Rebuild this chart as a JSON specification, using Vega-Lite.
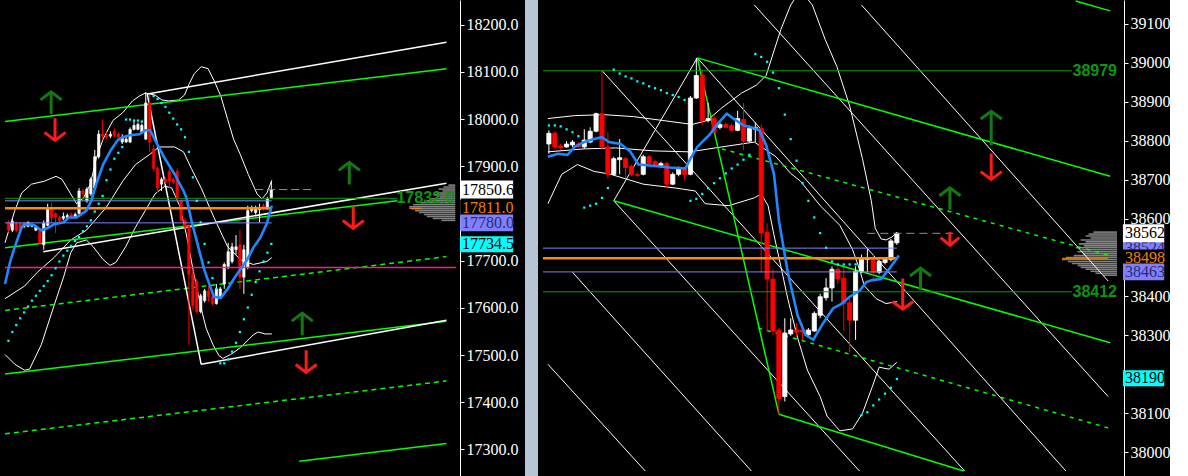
{
"$schema":"https://vega.github.io/schema/vega-lite/v6.json",
"background":"#000000",
"padding":0,
"autosize":{"type":"pad"},
"spacing":0,
"bounds":"flush",
"config":{"view":{"stroke":null},"axis":{"grid":false,"labelFont":"Liberation Serif","labelFontSize":16,"labelColor":"#ffffff","tickColor":"#ffffff","domainColor":"#ffffff","tickSize":4,"labelPadding":2,"labelOverlap":false,"labelFlush":false}},
"datasets":{
"lc":[
{"x":0,"o":17781.1,"h":17785.3,"l":17760.4,"c":17764.5},{"x":1,"o":17764.5,"h":17789.4,"l":17760.4,"c":17783.2},{"x":2,"o":17779.0,"h":17783.2,"l":17760.4,"c":17764.5},{"x":3,"o":17779.0,"h":17781.1,"l":17758.3,"c":17762.5},{"x":4,"o":17772.8,"h":17781.1,"l":17768.7,"c":17777.0},{"x":5,"o":17772.8,"h":17783.2,"l":17770.7,"c":17781.1},{"x":6,"o":17772.8,"h":17779.0,"l":17770.7,"c":17777.0},{"x":7,"o":17764.5,"h":17774.9,"l":17762.5,"c":17770.7},{"x":8,"o":17764.5,"h":17768.7,"l":17733.4,"c":17737.6},{"x":9,"o":17733.4,"h":17785.3,"l":17723.1,"c":17779.0},
{"x":10,"o":17774.9,"h":17820.5,"l":17772.8,"c":17812.2},{"x":11,"o":17812.2,"h":17822.6,"l":17779.0,"c":17791.5},{"x":12,"o":17799.8,"h":17801.9,"l":17758.3,"c":17791.5},{"x":13,"o":17791.5,"h":17795.6,"l":17781.1,"c":17785.3},{"x":14,"o":17789.4,"h":17801.9,"l":17785.3,"c":17793.6},{"x":15,"o":17791.5,"h":17799.8,"l":17787.3,"c":17795.6},{"x":16,"o":17797.7,"h":17801.9,"l":17789.4,"c":17793.6},{"x":17,"o":17793.6,"h":17801.9,"l":17789.4,"c":17797.7},{"x":18,"o":17799.8,"h":17853.7,"l":17797.7,"c":17847.5},{"x":19,"o":17847.5,"h":17851.6,"l":17826.7,"c":17841.3},
{"x":20,"o":17826.7,"h":17855.8,"l":17822.6,"c":17851.6},{"x":21,"o":17841.3,"h":17876.5,"l":17837.1,"c":17872.4},{"x":22,"o":17853.7,"h":17934.6,"l":17849.6,"c":17920.1},{"x":23,"o":17920.1,"h":17976.1,"l":17915.9,"c":17967.8},{"x":24,"o":17967.8,"h":17998.9,"l":17955.3,"c":17963.6},{"x":25,"o":17965.7,"h":17971.9,"l":17957.4,"c":17961.5},{"x":26,"o":17963.6,"h":17974.0,"l":17959.5,"c":17967.8},{"x":27,"o":17974.0,"h":17980.2,"l":17961.5,"c":17965.7},{"x":28,"o":17967.8,"h":17971.9,"l":17957.4,"c":17961.5},{"x":29,"o":17951.2,"h":17967.8,"l":17947.0,"c":17961.5},
{"x":30,"o":17951.2,"h":17963.6,"l":17949.1,"c":17957.4},{"x":31,"o":17951.2,"h":17982.3,"l":17949.1,"c":17978.1},{"x":32,"o":17978.1,"h":17996.8,"l":17976.1,"c":17986.4},{"x":33,"o":17978.1,"h":17992.6,"l":17976.1,"c":17988.5},{"x":34,"o":17971.9,"h":17990.6,"l":17969.8,"c":17986.4},{"x":35,"o":17957.4,"h":18056.9,"l":17955.3,"c":18034.1},{"x":36,"o":18034.1,"h":18050.7,"l":17930.4,"c":17951.2},{"x":37,"o":17936.7,"h":17945.0,"l":17889.0,"c":17895.2},{"x":38,"o":17895.2,"h":17899.3,"l":17843.3,"c":17853.7},{"x":39,"o":17862.0,"h":17876.5,"l":17847.5,"c":17872.4},
{"x":40,"o":17872.4,"h":17876.5,"l":17862.0,"c":17866.1},{"x":41,"o":17889.0,"h":17895.2,"l":17853.7,"c":17868.2},{"x":42,"o":17872.4,"h":17876.5,"l":17862.0,"c":17866.1},{"x":43,"o":17889.0,"h":17895.2,"l":17826.7,"c":17830.9},{"x":44,"o":17826.7,"h":17830.9,"l":17781.1,"c":17785.3},{"x":45,"o":17785.3,"h":17791.5,"l":17764.5,"c":17770.7},{"x":46,"o":17772.8,"h":17777.0,"l":17521.9,"c":17671.2},{"x":47,"o":17671.2,"h":17681.6,"l":17594.5,"c":17604.8},{"x":48,"o":17656.7,"h":17660.8,"l":17588.3,"c":17592.4},{"x":49,"o":17592.4,"h":17629.7,"l":17588.3,"c":17625.6},
{"x":50,"o":17615.2,"h":17640.1,"l":17611.1,"c":17636.0},{"x":51,"o":17636.0,"h":17646.3,"l":17613.1,"c":17623.5},{"x":52,"o":17623.5,"h":17627.7,"l":17604.8,"c":17609.0},{"x":53,"o":17609.0,"h":17650.5,"l":17606.9,"c":17640.1},{"x":54,"o":17623.5,"h":17644.3,"l":17619.4,"c":17640.1},{"x":55,"o":17650.5,"h":17696.1,"l":17640.1,"c":17691.9},{"x":56,"o":17687.8,"h":17737.6,"l":17681.6,"c":17718.9},{"x":57,"o":17698.2,"h":17737.6,"l":17694.0,"c":17729.3},{"x":58,"o":17723.1,"h":17754.2,"l":17712.7,"c":17729.3},{"x":59,"o":17733.4,"h":17764.5,"l":17640.1,"c":17665.0},
{"x":60,"o":17665.0,"h":17733.4,"l":17629.7,"c":17723.1},{"x":61,"o":17685.7,"h":17816.4,"l":17681.6,"c":17806.0},{"x":62,"o":17806.0,"h":17816.4,"l":17801.9,"c":17812.2},{"x":63,"o":17801.9,"h":17816.4,"l":17797.7,"c":17812.2},{"x":64,"o":17808.1,"h":17820.5,"l":17781.1,"c":17812.2},{"x":65,"o":17816.4,"h":17820.5,"l":17806.0,"c":17810.2},{"x":66,"o":17810.2,"h":17835.0,"l":17808.1,"c":17830.9},{"x":67,"o":17833.0,"h":17868.2,"l":17830.9,"c":17850.6}
],
"lma":[{"x":-0.875,"p":17650.5},{"x":0.375,"p":17696.1},{"x":1.625,"p":17729.3},{"x":3.375,"p":17770.7},{"x":4.125,"p":17777.0},{"x":6.625,"p":17774.9},{"x":8.375,"p":17764.5},{"x":9.875,"p":17768.7},{"x":11.625,"p":17777.0},{"x":14.125,"p":17781.1},{"x":15.375,"p":17791.5},{"x":17.375,"p":17791.5},{"x":19.875,"p":17806.0},{"x":21.125,"p":17826.7},{"x":22.375,"p":17862.0},{"x":24.125,"p":17903.5},{"x":26.125,"p":17934.6},{"x":27.875,"p":17955.3},{"x":29.125,"p":17961.5},{"x":30.875,"p":17965.7},{"x":33.375,"p":17967.8},{"x":34.875,"p":17976.1},{"x":36.125,"p":17976.1},{"x":37.375,"p":17955.3},{"x":39.875,"p":17915.9},{"x":42.375,"p":17882.7},{"x":44.625,"p":17847.5},{"x":45.375,"p":17833.0},{"x":46.625,"p":17785.3},{"x":48.375,"p":17729.3},{"x":49.875,"p":17681.6},{"x":51.625,"p":17640.1},{"x":52.375,"p":17623.5},{"x":54.125,"p":17621.4},{"x":55.875,"p":17640.1},{"x":57.375,"p":17660.8},{"x":59.125,"p":17681.6},{"x":60.875,"p":17702.3},{"x":62.375,"p":17727.2},{"x":64.125,"p":17747.9},{"x":65.875,"p":17779.0},{"x":67.125,"p":17816.4}],
"lbb":[
{"b":"u","x":-0.875,"p":17737.6},{"b":"u","x":1.625,"p":17806.0},{"b":"u","x":3.375,"p":17843.3},{"b":"u","x":5.875,"p":17862.0},{"b":"u","x":9.125,"p":17868.2},{"b":"u","x":12.125,"p":17878.6},{"b":"u","x":13.625,"p":17872.4},{"b":"u","x":15.875,"p":17841.3},{"b":"u","x":17.375,"p":17820.5},{"b":"u","x":19.125,"p":17833.0},{"b":"u","x":20.875,"p":17862.0},{"b":"u","x":22.375,"p":17915.9},{"b":"u","x":24.125,"p":17957.4},{"b":"u","x":26.625,"p":17996.8},{"b":"u","x":29.125,"p":18013.4},{"b":"u","x":31.625,"p":18038.3},{"b":"u","x":33.375,"p":18048.6},{"b":"u","x":34.875,"p":18054.9},{"b":"u","x":37.375,"p":18050.7},{"b":"u","x":39.125,"p":18040.3},{"b":"u","x":40.875,"p":18038.3},{"b":"u","x":43.375,"p":18040.3},{"b":"u","x":44.875,"p":18050.7},{"b":"u","x":46.125,"p":18075.6},{"b":"u","x":47.375,"p":18096.3},{"b":"u","x":49.125,"p":18110.8},{"b":"u","x":50.875,"p":18106.7},{"b":"u","x":52.375,"p":18081.8},{"b":"u","x":54.125,"p":18048.6},{"b":"u","x":55.875,"p":17998.9},{"b":"u","x":57.375,"p":17957.4},{"b":"u","x":59.125,"p":17924.2},{"b":"u","x":61.125,"p":17882.7},{"b":"u","x":63.375,"p":17841.3},{"b":"u","x":64.625,"p":17830.9},{"b":"u","x":65.875,"p":17843.3},{"b":"u","x":67.125,"p":17870.3},
{"b":"m","x":-0.875,"p":17619.4},{"b":"m","x":4.125,"p":17646.3},{"b":"m","x":7.375,"p":17675.4},{"b":"m","x":11.625,"p":17706.5},{"b":"m","x":15.875,"p":17743.8},{"b":"m","x":19.875,"p":17764.5},{"b":"m","x":24.875,"p":17812.2},{"b":"m","x":29.125,"p":17868.2},{"b":"m","x":32.375,"p":17903.5},{"b":"m","x":35.875,"p":17924.2},{"b":"m","x":38.375,"p":17940.8},{"b":"m","x":42.375,"p":17940.8},{"b":"m","x":44.625,"p":17930.4},{"b":"m","x":46.625,"p":17895.2},{"b":"m","x":49.125,"p":17853.7},{"b":"m","x":52.375,"p":17791.5},{"b":"m","x":55.875,"p":17729.3},{"b":"m","x":59.125,"p":17702.3},{"b":"m","x":62.375,"p":17691.9},{"b":"m","x":65.875,"p":17698.2},{"b":"m","x":67.125,"p":17706.5},
{"b":"l","x":-0.875,"p":17501.2},{"b":"l","x":1.625,"p":17480.4},{"b":"l","x":4.125,"p":17468.0},{"b":"l","x":5.375,"p":17470.1},{"b":"l","x":8.375,"p":17521.9},{"b":"l","x":11.625,"p":17604.8},{"b":"l","x":14.125,"p":17667.1},{"b":"l","x":15.875,"p":17716.8},{"b":"l","x":17.375,"p":17737.6},{"b":"l","x":19.875,"p":17743.8},{"b":"l","x":21.625,"p":17729.3},{"b":"l","x":24.125,"p":17702.3},{"b":"l","x":25.875,"p":17689.9},{"b":"l","x":27.375,"p":17696.1},{"b":"l","x":29.875,"p":17729.3},{"b":"l","x":32.375,"p":17770.7},{"b":"l","x":34.875,"p":17806.0},{"b":"l","x":37.375,"p":17841.3},{"b":"l","x":39.875,"p":17857.9},{"b":"l","x":41.625,"p":17853.7},{"b":"l","x":43.625,"p":17816.4},{"b":"l","x":45.375,"p":17754.2},{"b":"l","x":47.125,"p":17677.4},{"b":"l","x":49.125,"p":17598.6},{"b":"l","x":50.375,"p":17557.2},{"b":"l","x":52.125,"p":17521.9},{"b":"l","x":53.625,"p":17499.1},{"b":"l","x":54.625,"p":17492.9},{"b":"l","x":56.625,"p":17501.2},{"b":"l","x":59.125,"p":17515.7},{"b":"l","x":62.375,"p":17542.6},{"b":"l","x":63.625,"p":17548.9},{"b":"l","x":65.375,"p":17544.7},{"b":"l","x":67.125,"p":17544.7}
],
"lsar":[{"x":0,"p":17530.2},{"x":1,"p":17548.9},{"x":2,"p":17563.4},{"x":3,"p":17577.9},{"x":4,"p":17590.3},{"x":5,"p":17602.8},{"x":6,"p":17615.2},{"x":7,"p":17625.6},{"x":8,"p":17636.0},{"x":9,"p":17646.3},{"x":10,"p":17656.7},{"x":11,"p":17669.1},{"x":12,"p":17683.7},{"x":13,"p":17698.2},{"x":14,"p":17710.6},{"x":15,"p":17721.0},{"x":16,"p":17731.3},{"x":17,"p":17741.7},{"x":18,"p":17750.0},{"x":19,"p":17762.5},{"x":20,"p":17772.8},{"x":21,"p":17785.3},{"x":22,"p":17803.9},{"x":23,"p":17820.5},{"x":24,"p":17837.1},{"x":25,"p":17870.3},{"x":26,"p":17893.1},{"x":27,"p":17915.9},{"x":28,"p":17928.4},{"x":29,"p":17940.8},{"x":30,"p":17998.9},{"x":31,"p":17998.9},{"x":32,"p":17996.8},{"x":33,"p":17996.8},{"x":34,"p":17994.7},{"x":37,"p":18048.6},{"x":38,"p":18042.4},{"x":39,"p":18034.1},{"x":40,"p":18025.8},{"x":41,"p":18013.4},{"x":42,"p":18000.9},{"x":43,"p":17988.5},{"x":44,"p":17978.1},{"x":45,"p":17961.5},{"x":46,"p":17930.4},{"x":47,"p":17876.5},{"x":48,"p":17826.7},{"x":49,"p":17781.1},{"x":50,"p":17735.5},{"x":51,"p":17696.1},{"x":52,"p":17662.9},{"x":53,"p":17640.1},{"x":54,"p":17482.5},{"x":55,"p":17482.5},{"x":56,"p":17490.8},{"x":57,"p":17507.4},{"x":58,"p":17526.0},{"x":59,"p":17548.9},{"x":60,"p":17575.8},{"x":61,"p":17600.7},{"x":62,"p":17627.7},{"x":63,"p":17654.6},{"x":64,"p":17677.4},{"x":65,"p":17698.2},{"x":66,"p":17716.8},{"x":67,"p":17735.5}],
"lgreen":[{"s":"a","x":-0.875,"p":17994.7},{"s":"a","x":111.625,"p":18106.7},{"s":"b","x":-0.875,"p":17727.2},{"s":"b","x":99.125,"p":17826.7},{"s":"c","x":-0.875,"p":17459.7},{"s":"c","x":111.625,"p":17571.7},{"s":"d","x":74.125,"p":17275.1},{"s":"d","x":111.625,"p":17312.4}],
"lgdash":[{"s":"a","x":-0.875,"p":17594.5},{"s":"a","x":111.625,"p":17708.5},{"s":"b","x":-0.875,"p":17333.2},{"s":"b","x":111.625,"p":17445.2}],
"lwhite":[{"s":"a","x":35.375,"p":18052.8},{"s":"a","x":111.625,"p":18162.7},{"s":"b","x":8.875,"p":17718.9},{"s":"b","x":111.625,"p":17864.1},{"s":"c","x":49.125,"p":17480.4},{"s":"c","x":111.625,"p":17573.7},{"s":"z","x":35.375,"p":18052.8},{"s":"z","x":49.125,"p":17480.4}],
"lprof":[{"p":17859.9,"x0":112.125},{"p":17855.8,"x0":110.875},{"p":17851.6,"x0":109.625},{"p":17847.5,"x0":110.625},{"p":17843.3,"x0":109.125},{"p":17839.2,"x0":108.375},{"p":17835.0,"x0":109.875},{"p":17830.9,"x0":107.625},{"p":17826.7,"x0":106.625},{"p":17822.6,"x0":105.125},{"p":17818.4,"x0":103.125},{"p":17814.3,"x0":102.125},{"p":17810.2,"x0":102.625},{"p":17806.0,"x0":103.625},{"p":17801.9,"x0":104.625},{"p":17797.7,"x0":105.875},{"p":17793.6,"x0":106.625},{"p":17789.4,"x0":108.125},{"p":17785.3,"x0":110.375}],
"larr":[{"x":10.875,"p":18034.1,"k":"up"},{"x":11.875,"p":17978.1,"k":"down"},{"x":86.875,"p":17884.8,"k":"up"},{"x":87.875,"p":17791.5,"k":"down"},{"x":74.875,"p":17565.4,"k":"up"},{"x":75.875,"p":17486.6,"k":"down"}],
"llab":[{"v":17811.0,"t":"17811.0","k":"o"},{"v":17850.6,"t":"17850.6","k":"w"},{"v":17780.0,"t":"17780.0","k":"l"},{"v":17734.5,"t":"17734.5","k":"c"}],
"rc":[
{"x":0,"o":38791.1,"h":38826.3,"l":38766.0,"c":38818.7},{"x":1,"o":38818.7,"h":38823.8,"l":38778.6,"c":38783.6},{"x":2,"o":38786.1,"h":38791.1,"l":38776.0,"c":38781.1},{"x":3,"o":38783.6,"h":38798.6,"l":38781.1,"c":38791.1},{"x":4,"o":38788.6,"h":38801.2,"l":38783.6,"c":38796.1},{"x":5,"o":38791.1,"h":38796.1,"l":38781.1,"c":38783.6},{"x":6,"o":38783.6,"h":38828.8,"l":38778.6,"c":38801.2},{"x":7,"o":38796.1,"h":38833.8,"l":38793.6,"c":38823.8},{"x":8,"o":38823.8,"h":38871.5,"l":38821.2,"c":38869.0},{"x":9,"o":38869.0,"h":38979.5,"l":38778.6,"c":38783.6},
{"x":10,"o":38783.6,"h":38821.2,"l":38703.2,"c":38713.3},{"x":11,"o":38713.3,"h":38758.5,"l":38710.7,"c":38753.4},{"x":12,"o":38750.9,"h":38803.7,"l":38713.3,"c":38756.0},{"x":13,"o":38753.4,"h":38758.5,"l":38703.2,"c":38730.8},{"x":14,"o":38733.4,"h":38738.4,"l":38708.2,"c":38713.3},{"x":15,"o":38713.3,"h":38718.3,"l":38705.7,"c":38710.7},{"x":16,"o":38713.3,"h":38763.5,"l":38710.7,"c":38758.5},{"x":17,"o":38758.5,"h":38763.5,"l":38735.9,"c":38740.9},{"x":18,"o":38745.9,"h":38750.9,"l":38730.8,"c":38735.9},{"x":19,"o":38735.9,"h":38745.9,"l":38730.8,"c":38740.9},
{"x":20,"o":38740.9,"h":38745.9,"l":38678.1,"c":38688.1},{"x":21,"o":38688.1,"h":38718.3,"l":38685.6,"c":38713.3},{"x":22,"o":38713.3,"h":38733.4,"l":38708.2,"c":38728.3},{"x":23,"o":38725.8,"h":38730.8,"l":38698.2,"c":38713.3},{"x":24,"o":38713.3,"h":38914.2,"l":38710.7,"c":38909.1},{"x":25,"o":38909.1,"h":39012.1,"l":38906.6,"c":38966.9},{"x":26,"o":38966.9,"h":38979.5,"l":38838.8,"c":38851.4},{"x":27,"o":38851.4,"h":38896.6,"l":38846.4,"c":38856.4},{"x":28,"o":38856.4,"h":38866.4,"l":38818.7,"c":38821.2},{"x":29,"o":38833.8,"h":38846.4,"l":38828.8,"c":38841.3},
{"x":30,"o":38841.3,"h":38846.4,"l":38831.3,"c":38833.8},{"x":31,"o":38838.8,"h":38843.8,"l":38823.8,"c":38826.3},{"x":32,"o":38826.3,"h":38876.5,"l":38823.8,"c":38856.4},{"x":33,"o":38853.9,"h":38896.6,"l":38776.0,"c":38798.6},{"x":34,"o":38798.6,"h":38838.8,"l":38796.1,"c":38831.3},{"x":35,"o":38828.8,"h":38846.4,"l":38796.1,"c":38833.8},{"x":36,"o":38831.3,"h":38841.3,"l":38462.1,"c":38562.6},{"x":37,"o":38565.1,"h":38587.7,"l":38311.5,"c":38444.6},{"x":38,"o":38444.6,"h":38469.7,"l":38301.4,"c":38311.5},{"x":39,"o":38314.0,"h":38319.0,"l":38098.0,"c":38138.2},
{"x":40,"o":38143.2,"h":38344.1,"l":38130.6,"c":38306.4},{"x":41,"o":38303.9,"h":38344.1,"l":38298.9,"c":38314.0},{"x":42,"o":38314.0,"h":38331.5,"l":38293.9,"c":38308.9},{"x":43,"o":38314.0,"h":38329.0,"l":38288.9,"c":38308.9},{"x":44,"o":38301.4,"h":38319.0,"l":38293.9,"c":38314.0},{"x":45,"o":38311.5,"h":38361.7,"l":38308.9,"c":38356.7},{"x":46,"o":38351.6,"h":38406.9,"l":38344.1,"c":38399.3},{"x":47,"o":38396.8,"h":38447.1,"l":38389.3,"c":38421.9},{"x":48,"o":38421.9,"h":38477.2,"l":38386.8,"c":38469.7},{"x":49,"o":38469.7,"h":38477.2,"l":38432.0,"c":38444.6},
{"x":50,"o":38447.1,"h":38474.7,"l":38311.5,"c":38381.8},{"x":51,"o":38384.3,"h":38394.3,"l":38256.2,"c":38339.1},{"x":52,"o":38339.1,"h":38477.2,"l":38288.9,"c":38464.6},{"x":53,"o":38464.6,"h":38507.3,"l":38459.6,"c":38494.8},{"x":54,"o":38494.8,"h":38524.9,"l":38462.1,"c":38499.8},{"x":55,"o":38499.8,"h":38507.3,"l":38444.6,"c":38462.1},{"x":56,"o":38462.1,"h":38494.8,"l":38457.1,"c":38489.8},{"x":57,"o":38487.2,"h":38499.8,"l":38482.2,"c":38494.8},{"x":58,"o":38494.8,"h":38547.5,"l":38489.8,"c":38542.5},{"x":59,"o":38537.5,"h":38565.1,"l":38532.4,"c":38562.0}
],
"rma":[{"x":-0.167,"p":38758.5},{"x":1.5,"p":38766.0},{"x":3.167,"p":38763.5},{"x":4.333,"p":38783.6},{"x":6,"p":38796.1},{"x":7.667,"p":38803.7},{"x":9,"p":38808.7},{"x":10.167,"p":38796.1},{"x":12.167,"p":38791.1},{"x":13.833,"p":38771.0},{"x":15.167,"p":38738.4},{"x":17.167,"p":38735.9},{"x":20.5,"p":38730.8},{"x":23.167,"p":38728.3},{"x":24,"p":38753.4},{"x":25.167,"p":38783.6},{"x":27.167,"p":38813.7},{"x":28.833,"p":38846.4},{"x":30.167,"p":38869.0},{"x":31.5,"p":38853.9},{"x":33,"p":38838.8},{"x":34.833,"p":38831.3},{"x":35.667,"p":38826.3},{"x":36.833,"p":38788.6},{"x":38.167,"p":38713.3},{"x":39,"p":38595.2},{"x":40.5,"p":38462.1},{"x":42.167,"p":38351.6},{"x":43.5,"p":38301.4},{"x":44.833,"p":38288.9},{"x":46.5,"p":38331.5},{"x":48.167,"p":38369.2},{"x":49.667,"p":38381.8},{"x":51,"p":38399.3},{"x":52.667,"p":38414.4},{"x":53.833,"p":38437.0},{"x":54.833,"p":38442.0},{"x":56.333,"p":38444.6},{"x":57.667,"p":38469.7},{"x":59.333,"p":38504.8}],
"rbb":[
{"b":"u","x":-0.167,"p":38856.4},{"b":"u","x":4.333,"p":38863.9},{"b":"u","x":9.333,"p":38866.4},{"b":"u","x":14.333,"p":38861.4},{"b":"u","x":19.333,"p":38851.4},{"b":"u","x":24.333,"p":38841.3},{"b":"u","x":26.833,"p":38851.4},{"b":"u","x":29.333,"p":38884.0},{"b":"u","x":32.667,"p":38921.7},{"b":"u","x":35.167,"p":38941.8},{"b":"u","x":36.833,"p":38966.9},{"b":"u","x":38,"p":39022.1},{"b":"u","x":39.333,"p":39084.9},{"b":"u","x":41,"p":39147.7},{"b":"u","x":42.667,"p":39185.4},{"b":"u","x":44.667,"p":39147.7},{"b":"u","x":46.833,"p":39059.8},{"b":"u","x":48.833,"p":38989.5},{"b":"u","x":51,"p":38889.0},{"b":"u","x":53.167,"p":38753.4},{"b":"u","x":54.667,"p":38645.4},{"b":"u","x":55.333,"p":38575.1},{"b":"u","x":56.333,"p":38547.5},{"b":"u","x":57.167,"p":38545.0},{"b":"u","x":58.167,"p":38552.5},{"b":"u","x":59,"p":38565.1},
{"b":"m","x":-0.167,"p":38771.0},{"b":"m","x":6,"p":38778.6},{"b":"m","x":11.333,"p":38781.1},{"b":"m","x":17.667,"p":38773.5},{"b":"m","x":23.833,"p":38771.0},{"b":"m","x":29.333,"p":38783.6},{"b":"m","x":34.833,"p":38796.1},{"b":"m","x":38.5,"p":38758.5},{"b":"m","x":41,"p":38715.8},{"b":"m","x":42.667,"p":38695.7},{"b":"m","x":46,"p":38632.9},{"b":"m","x":49.333,"p":38582.7},{"b":"m","x":51.5,"p":38519.9},{"b":"m","x":52.667,"p":38469.7},{"b":"m","x":53.5,"p":38427.0},{"b":"m","x":55.5,"p":38394.3},{"b":"m","x":57.167,"p":38381.8},{"b":"m","x":59,"p":38386.8},
{"b":"l","x":-0.167,"p":38637.9},{"b":"l","x":2.167,"p":38713.3},{"b":"l","x":4.833,"p":38738.4},{"b":"l","x":7.667,"p":38720.8},{"b":"l","x":10.5,"p":38713.3},{"b":"l","x":16,"p":38688.1},{"b":"l","x":21.5,"p":38678.1},{"b":"l","x":24.833,"p":38670.6},{"b":"l","x":26.5,"p":38637.9},{"b":"l","x":30.5,"p":38632.9},{"b":"l","x":34.833,"p":38653.0},{"b":"l","x":36,"p":38663.0},{"b":"l","x":37.167,"p":38632.9},{"b":"l","x":38.167,"p":38557.6},{"b":"l","x":39.333,"p":38477.2},{"b":"l","x":40.5,"p":38394.3},{"b":"l","x":42.167,"p":38293.9},{"b":"l","x":43.833,"p":38211.0},{"b":"l","x":46,"p":38143.2},{"b":"l","x":47.167,"p":38093.0},{"b":"l","x":49.333,"p":38055.3},{"b":"l","x":51.5,"p":38060.3},{"b":"l","x":53.167,"p":38100.5},{"b":"l","x":54.833,"p":38168.3},{"b":"l","x":56,"p":38218.5},{"b":"l","x":57.667,"p":38213.5},{"b":"l","x":59,"p":38231.1}
],
"rsar":[{"x":0,"p":38838.8},{"x":1,"p":38838.8},{"x":2,"p":38836.3},{"x":3,"p":38828.8},{"x":4,"p":38821.2},{"x":5,"p":38811.2},{"x":6,"p":38627.9},{"x":7,"p":38632.9},{"x":8,"p":38637.9},{"x":9,"p":38653.0},{"x":10,"p":38678.1},{"x":11,"p":38982.0},{"x":12,"p":38971.9},{"x":13,"p":38964.4},{"x":14,"p":38959.4},{"x":15,"p":38951.8},{"x":16,"p":38946.8},{"x":17,"p":38939.3},{"x":18,"p":38934.3},{"x":19,"p":38929.2},{"x":20,"p":38921.7},{"x":21,"p":38916.7},{"x":22,"p":38911.7},{"x":23,"p":38904.1},{"x":24,"p":38645.4},{"x":25,"p":38650.5},{"x":26,"p":38663.0},{"x":27,"p":38678.1},{"x":28,"p":38690.7},{"x":29,"p":38703.2},{"x":30,"p":38715.8},{"x":31,"p":38728.3},{"x":32,"p":38738.4},{"x":33,"p":38750.9},{"x":34,"p":38763.5},{"x":35,"p":39022.1},{"x":36,"p":39014.6},{"x":37,"p":39002.1},{"x":38,"p":38974.4},{"x":39,"p":38934.3},{"x":40,"p":38866.4},{"x":41,"p":38803.7},{"x":42,"p":38748.4},{"x":43,"p":38690.7},{"x":44,"p":38645.4},{"x":45,"p":38602.8},{"x":46,"p":38562.6},{"x":47,"p":38524.9},{"x":48,"p":38489.8},{"x":49,"p":38482.2},{"x":50,"p":38482.2},{"x":51,"p":38482.2},{"x":52,"p":38482.2},{"x":53,"p":38095.5},{"x":54,"p":38103.0},{"x":55,"p":38120.6},{"x":56,"p":38135.7},{"x":57,"p":38150.7},{"x":58,"p":38165.8},{"x":59,"p":38188.4}],
"rgreen":[{"s":"u","x":25.167,"p":39012.1},{"s":"u","x":95.167,"p":38708.2},{"s":"m","x":11,"p":38645.4},{"s":"m","x":95.167,"p":38281.3},{"s":"l","x":39,"p":38098.0},{"s":"l","x":70.333,"p":37952.3},{"s":"st","x":25.167,"p":39012.1},{"s":"st","x":39,"p":38098.0},{"s":"tr","x":89.333,"p":39157.8},{"s":"tr","x":95.167,"p":39132.6}],
"rgdash":[{"s":"a","x":29.333,"p":38778.6},{"s":"a","x":95.167,"p":38504.8},{"s":"b","x":35.5,"p":38319.0},{"s":"b","x":94.833,"p":38062.8}],
"rwhite":[{"s":"A","x":53,"p":39147.7},{"s":"A","x":94.833,"p":38439.5},{"s":"B","x":34.833,"p":39147.7},{"s":"B","x":94.833,"p":38143.2},{"s":"C","x":25.167,"p":39012.1},{"s":"C","x":87.667,"p":37952.3},{"s":"D","x":9,"p":38979.5},{"s":"D","x":70.5,"p":37952.3},{"s":"La","x":11,"p":38645.4},{"s":"La","x":52.667,"p":37952.3},{"s":"Lb","x":4,"p":38462.1},{"s":"Lb","x":34.333,"p":37952.3},{"s":"Lc","x":-0.167,"p":38226.1},{"s":"Lc","x":16.333,"p":37952.3},{"s":"Z","x":11,"p":38645.4},{"s":"Z","x":25.167,"p":39012.1}],
"rprof":[{"p":38565.1,"x0":92.333},{"p":38560.1,"x0":91.5},{"p":38555.0,"x0":91},{"p":38550.0,"x0":91.833},{"p":38545.0,"x0":90.167},{"p":38540.0,"x0":91},{"p":38535.0,"x0":89.833},{"p":38529.9,"x0":90.667},{"p":38524.9,"x0":89.333},{"p":38519.9,"x0":90.333},{"p":38514.9,"x0":89.667},{"p":38509.8,"x0":90.5},{"p":38504.8,"x0":89},{"p":38499.8,"x0":87.667},{"p":38494.8,"x0":87},{"p":38489.8,"x0":88},{"p":38484.7,"x0":88.667},{"p":38479.7,"x0":89.667},{"p":38474.7,"x0":90.167},{"p":38469.7,"x0":91},{"p":38464.6,"x0":91.833},{"p":38459.6,"x0":92.667},{"p":38454.6,"x0":94}],
"rarr":[{"x":75,"p":38831.3,"k":"upL"},{"x":75,"p":38733.4,"k":"downM"},{"x":68,"p":38650.5,"k":"up"},{"x":68,"p":38548.8,"k":"downS"},{"x":63,"p":38444.6,"k":"up"},{"x":60,"p":38406.9,"k":"downL"}],
"rlab0":[{"v":38524,"t":"38524","k":"l"}],
"rlab":[{"v":38498,"t":"38498","k":"o"},{"v":38562,"t":"38562","k":"w"},{"v":38463,"t":"38463","k":"l"},{"v":38190,"t":"38190","k":"c"}]
},
"hconcat":[
{"width":525,"height":476,
"resolve":{"scale":{"color":"independent","size":"independent","shape":"independent"}},
"layer":[
{"data":{"name":"lprof"},"mark":{"type":"rule","color":"#808080","strokeWidth":1.6},
 "encoding":{"x":{"field":"x0","type":"quantitative","scale":{"domain":[-0.875,130.375],"nice":false,"zero":false},"axis":null},"x2":{"datum":113.875},
 "y":{"field":"p","type":"quantitative","scale":{"domain":[17254.4,18241.5],"nice":false,"zero":false},"axis":{"orient":"right","offset":-65,"values":[17300,17400,17500,17600,17700,17900,18000,18100,18200],"format":".1f","title":null}}}},
{"data":{"values":[{"p":17811.0,"x0":102.125,"x1":105.375}]},"mark":{"type":"rule","color":"#ff8c00","strokeWidth":1},
 "encoding":{"x":{"field":"x0","type":"quantitative","scale":{"domain":[-0.875,130.375],"nice":false,"zero":false},"axis":null},"x2":{"field":"x1"},"y":{"field":"p","type":"quantitative","scale":{"domain":[17254.4,18241.5],"nice":false,"zero":false},"axis":{"orient":"right","offset":-65,"values":[17300,17400,17500,17600,17700,17900,18000,18100,18200],"format":".1f","title":null}}}},
{"data":{"name":"lbb"},"mark":{"type":"line","color":"#ffffff","strokeWidth":1,"clip":true},
 "encoding":{"x":{"field":"x","type":"quantitative","scale":{"domain":[-0.875,130.375],"nice":false,"zero":false},"axis":null},"y":{"field":"p","type":"quantitative","scale":{"domain":[17254.4,18241.5],"nice":false,"zero":false},"axis":{"orient":"right","offset":-65,"values":[17300,17400,17500,17600,17700,17900,18000,18100,18200],"format":".1f","title":null}},"detail":{"field":"b","type":"nominal"}}},
{"data":{"name":"lgreen"},"mark":{"type":"line","color":"#00ff00","strokeWidth":1.5,"clip":true},
 "encoding":{"x":{"field":"x","type":"quantitative","scale":{"domain":[-0.875,130.375],"nice":false,"zero":false},"axis":null},"y":{"field":"p","type":"quantitative","scale":{"domain":[17254.4,18241.5],"nice":false,"zero":false},"axis":{"orient":"right","offset":-65,"values":[17300,17400,17500,17600,17700,17900,18000,18100,18200],"format":".1f","title":null}},"detail":{"field":"s","type":"nominal"}}},
{"data":{"name":"lgdash"},"mark":{"type":"line","color":"#00ff00","strokeWidth":1.5,"strokeDash":[5,4],"clip":true},
 "encoding":{"x":{"field":"x","type":"quantitative","scale":{"domain":[-0.875,130.375],"nice":false,"zero":false},"axis":null},"y":{"field":"p","type":"quantitative","scale":{"domain":[17254.4,18241.5],"nice":false,"zero":false},"axis":{"orient":"right","offset":-65,"values":[17300,17400,17500,17600,17700,17900,18000,18100,18200],"format":".1f","title":null}},"detail":{"field":"s","type":"nominal"}}},
{"data":{"name":"lwhite"},"mark":{"type":"line","color":"#ffffff","strokeWidth":1.5,"clip":true},
 "encoding":{"x":{"field":"x","type":"quantitative","scale":{"domain":[-0.875,130.375],"nice":false,"zero":false},"axis":null},"y":{"field":"p","type":"quantitative","scale":{"domain":[17254.4,18241.5],"nice":false,"zero":false},"axis":{"orient":"right","offset":-65,"values":[17300,17400,17500,17600,17700,17900,18000,18100,18200],"format":".1f","title":null}},"detail":{"field":"s","type":"nominal"}}},
{"data":{"name":"lc"},"mark":{"type":"rule","strokeWidth":1},
 "encoding":{"x":{"field":"x","type":"quantitative","scale":{"domain":[-0.875,130.375],"nice":false,"zero":false},"axis":null},"y":{"field":"l","type":"quantitative","scale":{"domain":[17254.4,18241.5],"nice":false,"zero":false},"axis":{"orient":"right","offset":-65,"values":[17300,17400,17500,17600,17700,17900,18000,18100,18200],"format":".1f","title":null}},"y2":{"field":"h"},
 "color":{"condition":{"test":"datum.c >= datum.o","value":"#ffffff"},"value":"#ff0000"}}},
{"data":{"name":"lc"},"mark":{"type":"bar","size":2.4,"strokeWidth":0.6},
 "encoding":{"x":{"field":"x","type":"quantitative","scale":{"domain":[-0.875,130.375],"nice":false,"zero":false},"axis":null},"y":{"field":"o","type":"quantitative","scale":{"domain":[17254.4,18241.5],"nice":false,"zero":false},"axis":{"orient":"right","offset":-65,"values":[17300,17400,17500,17600,17700,17900,18000,18100,18200],"format":".1f","title":null}},"y2":{"field":"c"},
 "color":{"condition":{"test":"datum.c >= datum.o","value":"#ffffff"},"value":"#ff0000"},
 "stroke":{"condition":{"test":"datum.c >= datum.o","value":"#ffffff"},"value":"#ff0000"}}},
{"data":{"values":[{"p":17685.7,"x0":-0.875,"x1":114.125}]},"mark":{"type":"rule","color":"#ff1a8c","strokeWidth":1.5},
 "encoding":{"x":{"field":"x0","type":"quantitative","scale":{"domain":[-0.875,130.375],"nice":false,"zero":false},"axis":null},"x2":{"field":"x1"},"y":{"field":"p","type":"quantitative","scale":{"domain":[17254.4,18241.5],"nice":false,"zero":false},"axis":{"orient":"right","offset":-65,"values":[17300,17400,17500,17600,17700,17900,18000,18100,18200],"format":".1f","title":null}}}},
{"data":{"values":[{"p":17832.0,"x0":-0.875,"x1":99.125}]},"mark":{"type":"rule","color":"#00a000","strokeWidth":1},
 "encoding":{"x":{"field":"x0","type":"quantitative","scale":{"domain":[-0.875,130.375],"nice":false,"zero":false},"axis":null},"x2":{"field":"x1"},"y":{"field":"p","type":"quantitative","scale":{"domain":[17254.4,18241.5],"nice":false,"zero":false},"axis":{"orient":"right","offset":-65,"values":[17300,17400,17500,17600,17700,17900,18000,18100,18200],"format":".1f","title":null}}}},
{"data":{"values":[{"p":17826.7,"x0":-0.875,"x1":67.125},{"p":17780.0,"x0":-0.875,"x1":67.125}]},"mark":{"type":"rule","color":"#8080ff","strokeWidth":1},
 "encoding":{"x":{"field":"x0","type":"quantitative","scale":{"domain":[-0.875,130.375],"nice":false,"zero":false},"axis":null},"x2":{"field":"x1"},"y":{"field":"p","type":"quantitative","scale":{"domain":[17254.4,18241.5],"nice":false,"zero":false},"axis":{"orient":"right","offset":-65,"values":[17300,17400,17500,17600,17700,17900,18000,18100,18200],"format":".1f","title":null}}}},
{"data":{"values":[{"p":17811.0,"x0":-0.875,"x1":67.125}]},"mark":{"type":"rule","color":"#ff8c00","strokeWidth":2.5},
 "encoding":{"x":{"field":"x0","type":"quantitative","scale":{"domain":[-0.875,130.375],"nice":false,"zero":false},"axis":null},"x2":{"field":"x1"},"y":{"field":"p","type":"quantitative","scale":{"domain":[17254.4,18241.5],"nice":false,"zero":false},"axis":{"orient":"right","offset":-65,"values":[17300,17400,17500,17600,17700,17900,18000,18100,18200],"format":".1f","title":null}}}},
{"data":{"values":[{"p":17850.6,"x0":62.875,"x1":77.125}]},"mark":{"type":"rule","color":"#909090","strokeWidth":1,"strokeDash":[8,4]},
 "encoding":{"x":{"field":"x0","type":"quantitative","scale":{"domain":[-0.875,130.375],"nice":false,"zero":false},"axis":null},"x2":{"field":"x1"},"y":{"field":"p","type":"quantitative","scale":{"domain":[17254.4,18241.5],"nice":false,"zero":false},"axis":{"orient":"right","offset":-65,"values":[17300,17400,17500,17600,17700,17900,18000,18100,18200],"format":".1f","title":null}}}},
{"data":{"name":"lma"},"mark":{"type":"line","color":"#1e88ff","strokeWidth":2.6,"clip":true},
 "encoding":{"x":{"field":"x","type":"quantitative","scale":{"domain":[-0.875,130.375],"nice":false,"zero":false},"axis":null},"y":{"field":"p","type":"quantitative","scale":{"domain":[17254.4,18241.5],"nice":false,"zero":false},"axis":{"orient":"right","offset":-65,"values":[17300,17400,17500,17600,17700,17900,18000,18100,18200],"format":".1f","title":null}}}},
{"data":{"name":"lsar"},"mark":{"type":"point","shape":"square","filled":true,"size":5,"color":"#00ffff","opacity":1},
 "encoding":{"x":{"field":"x","type":"quantitative","scale":{"domain":[-0.875,130.375],"nice":false,"zero":false},"axis":null},"y":{"field":"p","type":"quantitative","scale":{"domain":[17254.4,18241.5],"nice":false,"zero":false},"axis":{"orient":"right","offset":-65,"values":[17300,17400,17500,17600,17700,17900,18000,18100,18200],"format":".1f","title":null}}}},
{"data":{"name":"larr"},"mark":{"type":"point","filled":false,"strokeWidth":3,"size":1156,"opacity":1},
 "encoding":{"x":{"field":"x","type":"quantitative","scale":{"domain":[-0.875,130.375],"nice":false,"zero":false},"axis":null},"y":{"field":"p","type":"quantitative","scale":{"domain":[17254.4,18241.5],"nice":false,"zero":false},"axis":{"orient":"right","offset":-65,"values":[17300,17400,17500,17600,17700,17900,18000,18100,18200],"format":".1f","title":null}},
 "shape":{"field":"k","type":"nominal","scale":{"domain":["up","upL","down","downM","downS","downL"],"range":["M0,0.65L0,-0.6M-0.62,-0.18L0,-0.65L0.62,-0.18","M0,1L0,-0.95M-0.62,-0.55L0,-1L0.62,-0.55","M0,-0.65L0,0.6M-0.62,0.18L0,0.65L0.62,0.18","M0,-0.76L0,0.72M-0.62,0.3L0,0.76L0.62,0.3","M0,-0.4L0,0.36M-0.55,-0.05L0,0.4L0.55,-0.05","M0,-0.9L0,0.86M-0.62,0.45L0,0.9L0.62,0.45"]},"legend":null},
 "color":{"field":"k","type":"nominal","scale":{"domain":["up","upL","down","downM","downS","downL"],"range":["#127a12","#127a12","#ff1a1a","#ff1a1a","#ff1a1a","#ff1a1a"]},"legend":null}}},
{"data":{"values":[{"v":17832.0,"t":"17832.0"}]},"mark":{"type":"text","font":"Liberation Sans","fontWeight":"bold","fontSize":16,"align":"right","baseline":"middle","color":"#0c960c"},
 "encoding":{"x":{"datum":113.625,"type":"quantitative","scale":{"domain":[-0.875,130.375],"nice":false,"zero":false},"axis":null},"y":{"field":"v","type":"quantitative","scale":{"domain":[17254.4,18241.5],"nice":false,"zero":false},"axis":{"orient":"right","offset":-65,"values":[17300,17400,17500,17600,17700,17900,18000,18100,18200],"format":".1f","title":null}},"text":{"field":"t"}}},
{"data":{"name":"llab"},"mark":{"type":"bar","orient":"horizontal"},
 "encoding":{"x":{"datum":115.125,"type":"quantitative","scale":{"domain":[-0.875,130.375],"nice":false,"zero":false},"axis":null},"x2":{"datum":128.625},"y":{"field":"v","type":"quantitative","scale":{"domain":[17254.4,18241.5],"nice":false,"zero":false},"axis":{"orient":"right","offset":-65,"values":[17300,17400,17500,17600,17700,17900,18000,18100,18200],"format":".1f","title":null}},
 "color":{"field":"k","type":"nominal","scale":{"domain":["w","o","l","c"],"range":["#ffffff","#000000","#8080ff","#00ffff"]},"legend":null},
 "size":{"field":"k","type":"ordinal","scale":{"domain":["w","o","l","c"],"range":[18,16,15,20]},"legend":null}}},
{"data":{"name":"llab"},"mark":{"type":"text","font":"Liberation Serif","fontSize":16,"align":"left","baseline":"middle"},
 "encoding":{"x":{"datum":115.625,"type":"quantitative","scale":{"domain":[-0.875,130.375],"nice":false,"zero":false},"axis":null},"y":{"field":"v","type":"quantitative","scale":{"domain":[17254.4,18241.5],"nice":false,"zero":false},"axis":{"orient":"right","offset":-65,"values":[17300,17400,17500,17600,17700,17900,18000,18100,18200],"format":".1f","title":null}},"text":{"field":"t"},
 "color":{"field":"k","type":"nominal","scale":{"domain":["w","o","l","c"],"range":["#000000","#f08000","#2a2a70","#000000"]},"legend":null}}}
]},
{"width":13,"height":476,"data":{"values":[{"a":1}]},"mark":{"type":"rect","color":"#b7c3d6"}},
{"width":586,"height":476,
"resolve":{"scale":{"color":"independent","size":"independent","shape":"independent"}},
"layer":[
{"data":{"name":"rprof"},"mark":{"type":"rule","color":"#808080","strokeWidth":1.6},
 "encoding":{"x":{"field":"x0","type":"quantitative","scale":{"domain":[-1,96.667],"nice":false,"zero":false},"axis":null},"x2":{"datum":96.333},
 "y":{"field":"p","type":"quantitative","scale":{"domain":[37952.3,39147.7],"nice":false,"zero":false},"axis":{"orient":"right","values":[38000,38100,38300,38400,38600,38700,38800,38900,39000,39100],"format":"d","title":null}}}},
{"data":{"values":[{"p":38498,"x0":87,"x1":94.833}]},"mark":{"type":"rule","color":"#ff8c00","strokeWidth":1},
 "encoding":{"x":{"field":"x0","type":"quantitative","scale":{"domain":[-1,96.667],"nice":false,"zero":false},"axis":null},"x2":{"field":"x1"},"y":{"field":"p","type":"quantitative","scale":{"domain":[37952.3,39147.7],"nice":false,"zero":false},"axis":{"orient":"right","values":[38000,38100,38300,38400,38600,38700,38800,38900,39000,39100],"format":"d","title":null}}}},
{"data":{"name":"rbb"},"mark":{"type":"line","color":"#ffffff","strokeWidth":1,"clip":true},
 "encoding":{"x":{"field":"x","type":"quantitative","scale":{"domain":[-1,96.667],"nice":false,"zero":false},"axis":null},"y":{"field":"p","type":"quantitative","scale":{"domain":[37952.3,39147.7],"nice":false,"zero":false},"axis":{"orient":"right","values":[38000,38100,38300,38400,38600,38700,38800,38900,39000,39100],"format":"d","title":null}},"detail":{"field":"b","type":"nominal"}}},
{"data":{"name":"rwhite"},"mark":{"type":"line","color":"#ffffff","strokeWidth":1,"clip":true},
 "encoding":{"x":{"field":"x","type":"quantitative","scale":{"domain":[-1,96.667],"nice":false,"zero":false},"axis":null},"y":{"field":"p","type":"quantitative","scale":{"domain":[37952.3,39147.7],"nice":false,"zero":false},"axis":{"orient":"right","values":[38000,38100,38300,38400,38600,38700,38800,38900,39000,39100],"format":"d","title":null}},"detail":{"field":"s","type":"nominal"}}},
{"data":{"name":"rgreen"},"mark":{"type":"line","color":"#00ff00","strokeWidth":1.5,"clip":true},
 "encoding":{"x":{"field":"x","type":"quantitative","scale":{"domain":[-1,96.667],"nice":false,"zero":false},"axis":null},"y":{"field":"p","type":"quantitative","scale":{"domain":[37952.3,39147.7],"nice":false,"zero":false},"axis":{"orient":"right","values":[38000,38100,38300,38400,38600,38700,38800,38900,39000,39100],"format":"d","title":null}},"detail":{"field":"s","type":"nominal"}}},
{"data":{"name":"rgdash"},"mark":{"type":"line","color":"#00ff00","strokeWidth":1.5,"strokeDash":[4,5],"clip":true},
 "encoding":{"x":{"field":"x","type":"quantitative","scale":{"domain":[-1,96.667],"nice":false,"zero":false},"axis":null},"y":{"field":"p","type":"quantitative","scale":{"domain":[37952.3,39147.7],"nice":false,"zero":false},"axis":{"orient":"right","values":[38000,38100,38300,38400,38600,38700,38800,38900,39000,39100],"format":"d","title":null}},"detail":{"field":"s","type":"nominal"}}},
{"data":{"name":"rc"},"mark":{"type":"rule","strokeWidth":1},
 "encoding":{"x":{"field":"x","type":"quantitative","scale":{"domain":[-1,96.667],"nice":false,"zero":false},"axis":null},"y":{"field":"l","type":"quantitative","scale":{"domain":[37952.3,39147.7],"nice":false,"zero":false},"axis":{"orient":"right","values":[38000,38100,38300,38400,38600,38700,38800,38900,39000,39100],"format":"d","title":null}},"y2":{"field":"h"},
 "color":{"condition":{"test":"datum.c >= datum.o","value":"#ffffff"},"value":"#ff0000"}}},
{"data":{"name":"rc"},"mark":{"type":"bar","size":4.2,"strokeWidth":0.8},
 "encoding":{"x":{"field":"x","type":"quantitative","scale":{"domain":[-1,96.667],"nice":false,"zero":false},"axis":null},"y":{"field":"o","type":"quantitative","scale":{"domain":[37952.3,39147.7],"nice":false,"zero":false},"axis":{"orient":"right","values":[38000,38100,38300,38400,38600,38700,38800,38900,39000,39100],"format":"d","title":null}},"y2":{"field":"c"},
 "color":{"condition":{"test":"datum.c >= datum.o","value":"#ffffff"},"value":"#ff0000"},
 "stroke":{"condition":{"test":"datum.c >= datum.o","value":"#ffffff"},"value":"#ff0000"}}},
{"data":{"values":[{"p":38979,"x0":-1,"x1":88.667},{"p":38412,"x0":-1,"x1":88.667}]},"mark":{"type":"rule","color":"#00a000","strokeWidth":1},
 "encoding":{"x":{"field":"x0","type":"quantitative","scale":{"domain":[-1,96.667],"nice":false,"zero":false},"axis":null},"x2":{"field":"x1"},"y":{"field":"p","type":"quantitative","scale":{"domain":[37952.3,39147.7],"nice":false,"zero":false},"axis":{"orient":"right","values":[38000,38100,38300,38400,38600,38700,38800,38900,39000,39100],"format":"d","title":null}}}},
{"data":{"values":[{"p":38524,"x0":-1,"x1":59},{"p":38463,"x0":-1,"x1":59}]},"mark":{"type":"rule","color":"#8080ff","strokeWidth":1},
 "encoding":{"x":{"field":"x0","type":"quantitative","scale":{"domain":[-1,96.667],"nice":false,"zero":false},"axis":null},"x2":{"field":"x1"},"y":{"field":"p","type":"quantitative","scale":{"domain":[37952.3,39147.7],"nice":false,"zero":false},"axis":{"orient":"right","values":[38000,38100,38300,38400,38600,38700,38800,38900,39000,39100],"format":"d","title":null}}}},
{"data":{"values":[{"p":38498,"x0":-1,"x1":59}]},"mark":{"type":"rule","color":"#ff8c00","strokeWidth":2.5},
 "encoding":{"x":{"field":"x0","type":"quantitative","scale":{"domain":[-1,96.667],"nice":false,"zero":false},"axis":null},"x2":{"field":"x1"},"y":{"field":"p","type":"quantitative","scale":{"domain":[37952.3,39147.7],"nice":false,"zero":false},"axis":{"orient":"right","values":[38000,38100,38300,38400,38600,38700,38800,38900,39000,39100],"format":"d","title":null}}}},
{"data":{"values":[{"p":38562,"x0":54,"x1":69.333}]},"mark":{"type":"rule","color":"#909090","strokeWidth":1,"strokeDash":[8,5]},
 "encoding":{"x":{"field":"x0","type":"quantitative","scale":{"domain":[-1,96.667],"nice":false,"zero":false},"axis":null},"x2":{"field":"x1"},"y":{"field":"p","type":"quantitative","scale":{"domain":[37952.3,39147.7],"nice":false,"zero":false},"axis":{"orient":"right","values":[38000,38100,38300,38400,38600,38700,38800,38900,39000,39100],"format":"d","title":null}}}},
{"data":{"name":"rma"},"mark":{"type":"line","color":"#1e88ff","strokeWidth":2.6,"clip":true},
 "encoding":{"x":{"field":"x","type":"quantitative","scale":{"domain":[-1,96.667],"nice":false,"zero":false},"axis":null},"y":{"field":"p","type":"quantitative","scale":{"domain":[37952.3,39147.7],"nice":false,"zero":false},"axis":{"orient":"right","values":[38000,38100,38300,38400,38600,38700,38800,38900,39000,39100],"format":"d","title":null}}}},
{"data":{"name":"rsar"},"mark":{"type":"point","shape":"square","filled":true,"size":5,"color":"#00ffff","opacity":1},
 "encoding":{"x":{"field":"x","type":"quantitative","scale":{"domain":[-1,96.667],"nice":false,"zero":false},"axis":null},"y":{"field":"p","type":"quantitative","scale":{"domain":[37952.3,39147.7],"nice":false,"zero":false},"axis":{"orient":"right","values":[38000,38100,38300,38400,38600,38700,38800,38900,39000,39100],"format":"d","title":null}}}},
{"data":{"name":"rarr"},"mark":{"type":"point","filled":false,"strokeWidth":3,"size":1156,"opacity":1},
 "encoding":{"x":{"field":"x","type":"quantitative","scale":{"domain":[-1,96.667],"nice":false,"zero":false},"axis":null},"y":{"field":"p","type":"quantitative","scale":{"domain":[37952.3,39147.7],"nice":false,"zero":false},"axis":{"orient":"right","values":[38000,38100,38300,38400,38600,38700,38800,38900,39000,39100],"format":"d","title":null}},
 "shape":{"field":"k","type":"nominal","scale":{"domain":["up","upL","down","downM","downS","downL"],"range":["M0,0.65L0,-0.6M-0.62,-0.18L0,-0.65L0.62,-0.18","M0,1L0,-0.95M-0.62,-0.55L0,-1L0.62,-0.55","M0,-0.65L0,0.6M-0.62,0.18L0,0.65L0.62,0.18","M0,-0.76L0,0.72M-0.62,0.3L0,0.76L0.62,0.3","M0,-0.4L0,0.36M-0.55,-0.05L0,0.4L0.55,-0.05","M0,-0.9L0,0.86M-0.62,0.45L0,0.9L0.62,0.45"]},"legend":null},
 "color":{"field":"k","type":"nominal","scale":{"domain":["up","upL","down","downM","downS","downL"],"range":["#127a12","#127a12","#ff1a1a","#ff1a1a","#ff1a1a","#ff1a1a"]},"legend":null}}},
{"data":{"values":[{"v":38979,"t":"38979"},{"v":38412,"t":"38412"}]},"mark":{"type":"text","font":"Liberation Sans","fontWeight":"bold","fontSize":16,"align":"right","baseline":"middle","color":"#0c960c"},
 "encoding":{"x":{"datum":96.333,"type":"quantitative","scale":{"domain":[-1,96.667],"nice":false,"zero":false},"axis":null},"y":{"field":"v","type":"quantitative","scale":{"domain":[37952.3,39147.7],"nice":false,"zero":false},"axis":{"orient":"right","values":[38000,38100,38300,38400,38600,38700,38800,38900,39000,39100],"format":"d","title":null}},"text":{"field":"t"}}},
{"data":{"name":"rlab0"},"mark":{"type":"bar","orient":"horizontal","size":15,"color":"#8080ff"},
 "encoding":{"x":{"datum":97.333,"type":"quantitative","scale":{"domain":[-1,96.667],"nice":false,"zero":false},"axis":null},"x2":{"datum":104.333},"y":{"field":"v","type":"quantitative","scale":{"domain":[37952.3,39147.7],"nice":false,"zero":false},"axis":{"orient":"right","values":[38000,38100,38300,38400,38600,38700,38800,38900,39000,39100],"format":"d","title":null}}}},
{"data":{"name":"rlab0"},"mark":{"type":"text","font":"Liberation Serif","fontSize":16,"align":"left","baseline":"middle","color":"#2a2a70"},
 "encoding":{"x":{"datum":97.667,"type":"quantitative","scale":{"domain":[-1,96.667],"nice":false,"zero":false},"axis":null},"y":{"field":"v","type":"quantitative","scale":{"domain":[37952.3,39147.7],"nice":false,"zero":false},"axis":{"orient":"right","values":[38000,38100,38300,38400,38600,38700,38800,38900,39000,39100],"format":"d","title":null}},"text":{"field":"t"}}},
{"data":{"name":"rlab"},"mark":{"type":"bar","orient":"horizontal"},
 "encoding":{"x":{"datum":97.333,"type":"quantitative","scale":{"domain":[-1,96.667],"nice":false,"zero":false},"axis":null},"x2":{"datum":104.333},"y":{"field":"v","type":"quantitative","scale":{"domain":[37952.3,39147.7],"nice":false,"zero":false},"axis":{"orient":"right","values":[38000,38100,38300,38400,38600,38700,38800,38900,39000,39100],"format":"d","title":null}},
 "color":{"field":"k","type":"nominal","scale":{"domain":["w","o","l","c"],"range":["#ffffff","#000000","#8080ff","#00ffff"]},"legend":null},
 "size":{"field":"k","type":"ordinal","scale":{"domain":["w","o","l","c"],"range":[18,16,15,20]},"legend":null}}},
{"data":{"name":"rlab"},"mark":{"type":"text","font":"Liberation Serif","fontSize":16,"align":"left","baseline":"middle"},
 "encoding":{"x":{"datum":97.667,"type":"quantitative","scale":{"domain":[-1,96.667],"nice":false,"zero":false},"axis":null},"y":{"field":"v","type":"quantitative","scale":{"domain":[37952.3,39147.7],"nice":false,"zero":false},"axis":{"orient":"right","values":[38000,38100,38300,38400,38600,38700,38800,38900,39000,39100],"format":"d","title":null}},"text":{"field":"t"},
 "color":{"field":"k","type":"nominal","scale":{"domain":["w","o","l","c"],"range":["#000000","#f08000","#2a2a70","#000000"]},"legend":null}}}
]}
]
}
